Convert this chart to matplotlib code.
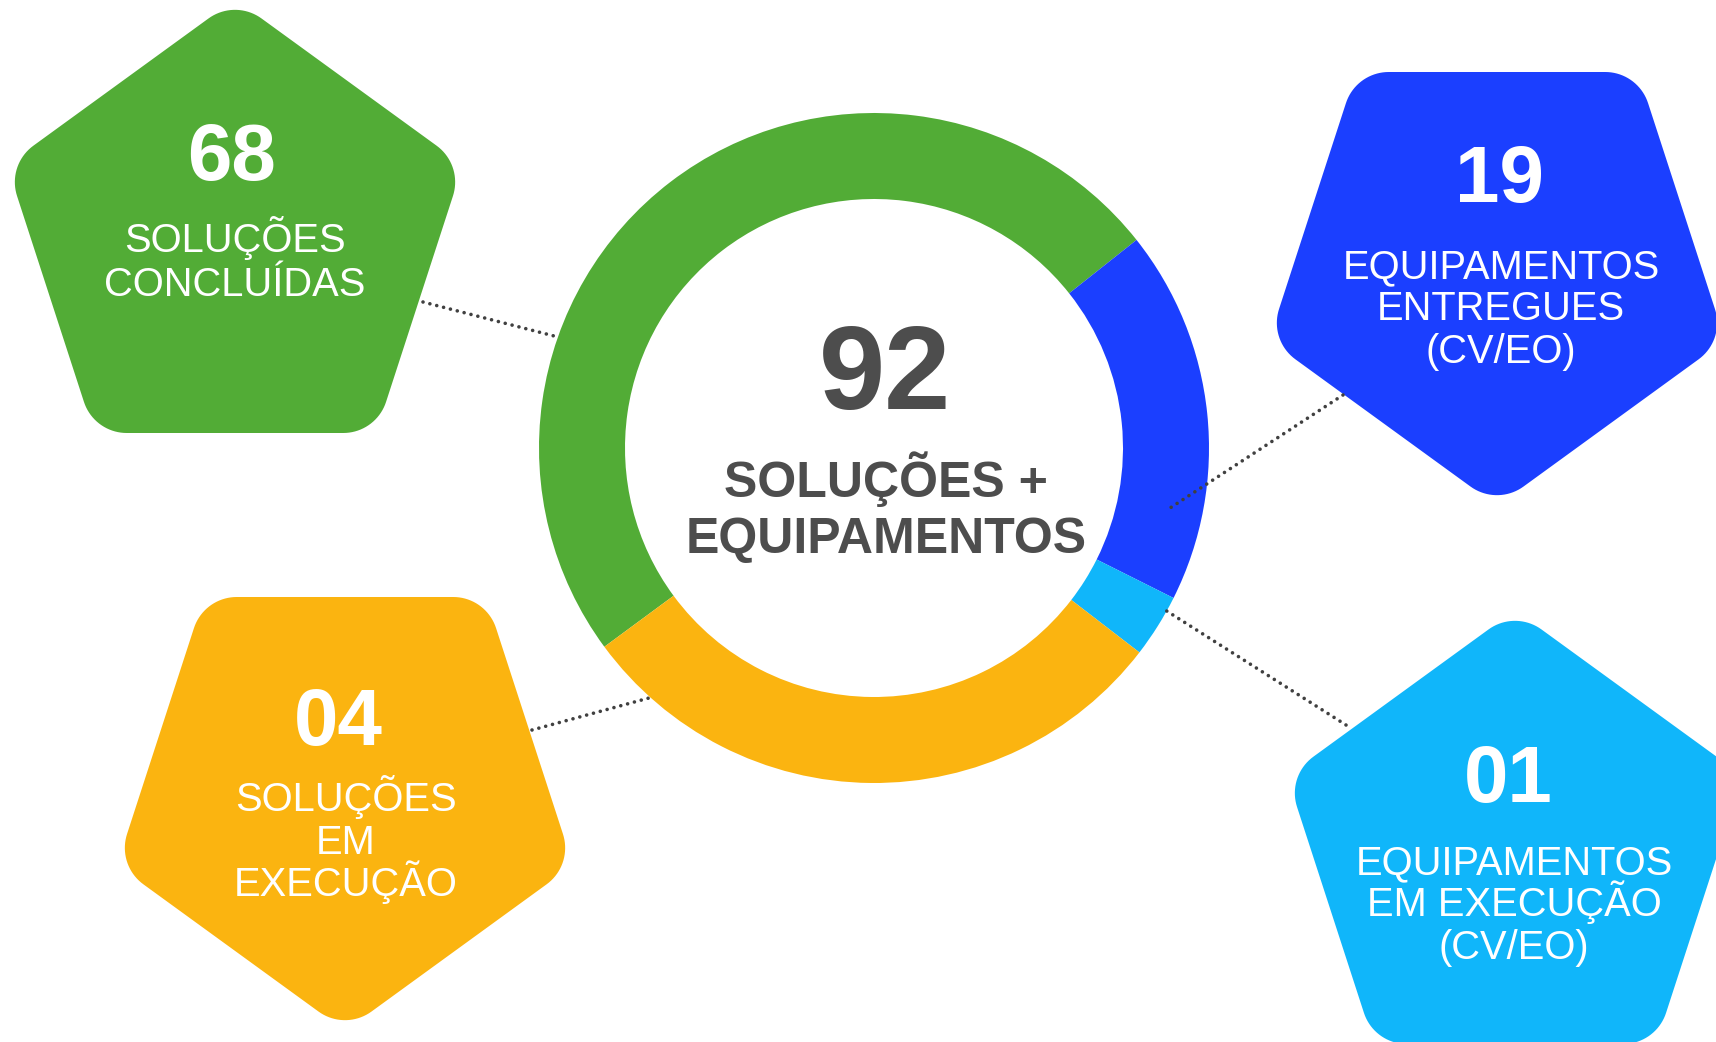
# painel: anel com o total no meio e quatro pentagonos com os numeros
import numpy as np
import matplotlib.pyplot as plt
from matplotlib.patches import Polygon

W, H = 1716, 1042

# dados
total = '92'
total_txt = ['SOLUÇÕES +', 'EQUIPAMENTOS']
numeros = ['68', '19', '01', '04']
rotulos = [['SOLUÇÕES', 'CONCLUÍDAS'],
           ['EQUIPAMENTOS', 'ENTREGUES', '(CV/EO)'],
           ['EQUIPAMENTOS', 'EM EXECUÇÃO', '(CV/EO)'],
           ['SOLUÇÕES', 'EM', 'EXECUÇÃO']]
# fatias do anel, em graus
fatias = [178, 65, 11, 106]
cores = ['#52ac36', '#1b3fff', '#10b6fa', '#fbb410']
cinza = '#4d4d4d'

# layout em pixels da imagem (y para baixo)
centro = (874, 448)
r_ext, largura = 335, 86
pent_centro = [(235, 239), (1497, 266), (1515, 850), (345, 791)]
pent_cima = [True, False, True, False]
apotema, raio_canto = 194, 45
num_pos = [(232, 180), (1499, 202), (1508, 802), (338, 745)]
txt_x = [235, 1501, 1514, 346]
txt_y0 = [252, 278, 874, 811]
passo = [44, 42.5, 42.5, 42.5]
ligacoes = [((423, 302), (558, 337)), ((1343, 395), (1167, 510)),
            ((1346, 725), (1162, 608)), ((532, 730), (649, 698))]


def pentagono(cx, cy, cima):
    # pentagono regular com cantos arredondados (y para cima)
    t0 = 90 if cima else -90
    R = (apotema - raio_canto) / np.cos(np.radians(36))
    pts = []
    for k in range(5):
        t = t0 + 72 * k
        vx = cx + R * np.cos(np.radians(t))
        vy = cy + R * np.sin(np.radians(t))
        for f in np.linspace(t - 36, t + 36, 20):
            pts.append((vx + raio_canto * np.cos(np.radians(f)),
                        vy + raio_canto * np.sin(np.radians(f))))
    return np.array(pts)


fig = plt.figure(figsize=(W / 100, H / 100), dpi=100)
ax = fig.add_axes([0, 0, 1, 1])

# anel
ax.pie(fatias, colors=cores, startangle=216.4, counterclock=False,
       radius=r_ext, center=(centro[0], H - centro[1]),
       wedgeprops=dict(width=largura, linewidth=0))

# texto central
ax.text(centro[0] + 11, H - 409, total, ha='center', va='baseline',
        fontsize=85.7, fontweight='bold', color=cinza, family='Liberation Sans')
for i, s in enumerate(total_txt):
    ax.text(centro[0] + 12, H - (497 + 56 * i), s, ha='center', va='baseline',
            fontsize=36, fontweight='bold', color=cinza, family='Liberation Sans')

# pentagonos
for i in range(4):
    cx, cy = pent_centro[i]
    ax.add_patch(Polygon(pentagono(cx, H - cy, pent_cima[i]), closed=True,
                         facecolor=cores[i], edgecolor='none', zorder=1))
    ax.text(num_pos[i][0], H - num_pos[i][1], numeros[i], ha='center',
            va='baseline', fontsize=57.6, fontweight='bold', color='white',
            family='Liberation Sans', zorder=4)
    for j, s in enumerate(rotulos[i]):
        ax.text(txt_x[i], H - (txt_y0[i] + passo[i] * j), s, ha='center',
                va='baseline', fontsize=28.7, color='white',
                family='Liberation Sans', zorder=4)

# ligacoes pontilhadas
for (x0, y0), (x1, y1) in ligacoes:
    ax.plot([x0, x1], [H - y0, H - y1], color='#404040', linewidth=2.6,
            linestyle=(0, (0.01, 1.95)), dash_capstyle='round', zorder=3)

ax.set_xlim(0, W)
ax.set_ylim(0, H)
ax.set_aspect('equal')
ax.axis('off')
fig.savefig('out.png', dpi=100, facecolor='white')
